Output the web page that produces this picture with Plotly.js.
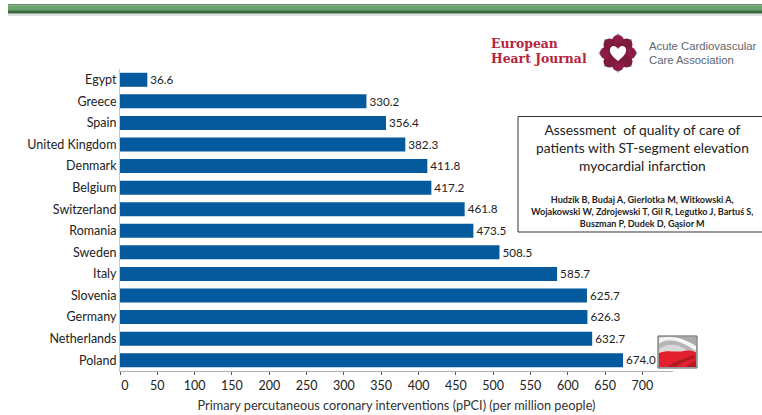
<!DOCTYPE html>
<html><head><meta charset="utf-8">
<script src="https://cdn.plot.ly/plotly-3.0.1.min.js"></script>
<style>html,body{margin:0;padding:0;background:#fff}#c{width:762px;height:415px}</style>
</head><body><div id="c"></div>
<script>
const countries=["Egypt","Greece","Spain","United Kingdom","Denmark","Belgium","Switzerland","Romania","Sweden","Italy","Slovenia","Germany","Netherlands","Poland"];
const ppciValues=[36.6,330.2,356.4,382.3,411.8,417.2,461.8,473.5,508.5,585.7,625.7,626.3,632.7,674.0];
const xTicks=[0,50,100,150,200,250,300,350,400,450,500,550,600,650,700];
const xTitle="Primary percutaneous coronary interventions (pPCI) (per million people)";
const boxTitle="Assessment  of quality of care of<br>patients with ST-segment elevation<br>myocardial infarction";
const boxAuthors="Hudzik B, Budaj A, Gierlotka M, Witkowski A,<br>Wojakowski W, Zdrojewski T, Gil R, Legutko J, Bartuś S,<br>Buszman P, Dudek D, Gąsior M";

const L=120,R=673,T=69,B=371,W=762,H=415;
const px=x=>(x-L)/(R-L), py=y=>(B-y)/(B-T);
const rect=(x0,y0,x1,y1,fill,line,lw)=>({type:'rect',xref:'paper',yref:'paper',x0:px(x0),x1:px(x1),y0:py(y0),y1:py(y1),fillcolor:fill,line:{color:line||fill,width:lw===undefined?0:lw},layer:'above'});
const circ=(cx,cy,r,fill)=>({type:'circle',xref:'paper',yref:'paper',x0:px(cx-r),x1:px(cx+r),y0:py(cy-r),y1:py(cy+r),fillcolor:fill,line:{width:0},layer:'above'});
const path=(pts,fill)=>({type:'path',xref:'paper',yref:'paper',path:pts.map(s=>typeof s==='string'?s:px(s[0])+','+py(s[1])).join(' '),fillcolor:fill,line:{width:0},layer:'above'});
const note=(x,y,text,size,color,extra)=>Object.assign({xref:'paper',yref:'paper',x:px(x),y:py(y),text:text,showarrow:false,align:'center',xanchor:'center',yanchor:'middle',font:{family:'Lato, sans-serif',size:size,color:color}},extra||{});

const shapes=[];
// top green bar
shapes.push(rect(8,13,762,16,'#e2e2e2'));
shapes.push(rect(8,4,762,13.5,'#3d6a40'));
shapes.push(rect(8,4.5,762,6,'#8db08f'));
shapes.push(rect(8,6,762,10.5,'#68a46c'));
// logo
const cx=618,cy=53;
shapes.push(path(['M',[cx,cy-20],'L',[cx+20,cy],'L',[cx,cy+20],'L',[cx-20,cy],'Z'],'#9db1d3'));
shapes.push(rect(cx-14,cy-14,cx+14,cy+14,'#a9bbd9'));
[[0,-12],[8.5,-8.5],[12,0],[8.5,8.5],[0,12],[-8.5,8.5],[-12,0],[-8.5,-8.5]].forEach((d,i)=>shapes.push(circ(cx+d[0],cy+d[1],6,i%2?'#7d1a3e':'#8e1c45')));
shapes.push(circ(cx,cy,10,'#7d1a3e'));
shapes.push(path(['M',[cx,cy+8],'C',[cx-5,cy+4],[cx-9,cy],[cx-8,cy-4],'C',[cx-7,cy-8],[cx-2,cy-8],[cx,cy-4],'C',[cx+2,cy-8],[cx+7,cy-8],[cx+8,cy-4],'C',[cx+9,cy],[cx+5,cy+4],[cx,cy+8],'Z'],'#ffffff'));
// text box
shapes.push(rect(518,116.5,764,232,'rgba(255,255,255,0)','#333333',1));
// flag
shapes.push(rect(658,336,697,368,'#d8d8d8','#555555',1));
shapes.push(path(['M',[659,343],'C',[668,336],[680,340],[696,351],'L',[696,346],'C',[684,337],[672,335],[659,339],'Z'],'#f7f7f7'));
shapes.push(path(['M',[659,349],'C',[668,342],[680,344],[690,352],'L',[696,351],'C',[680,340],[668,338],[659,344],'Z'],'#b5b5b5'));
shapes.push(path(['M',[672,337],'C',[682,338],[690,342],[696,346],'L',[696,337],'Z'],'#a9a9a9'));
shapes.push(path(['M',[659,353],'C',[668,349],[676,353],[684,351],'C',[688,350],[692,351],[696,352],'L',[696,367],'L',[659,367],'Z'],'#e3202d'));
shapes.push(path(['M',[668,367],'C',[673,362],[680,360],[694,355],'L',[695,358],'C',[686,361],[680,363],[676,367],'Z'],'#b01a24'));
shapes.push(path(['M',[686,367],'C',[689,364],[692,362],[696,361],'L',[696,367],'Z'],'#b81a24'));

const annotations=[
 note(488.5,43.75,'<b>European</b>',12.4,'#b5233d',{xanchor:'left',font:{family:'DejaVu Serif, serif',size:12.4,color:'#b5233d'}}),
 note(488.5,58.5,'<b>Heart Journal</b>',12.4,'#b5233d',{xanchor:'left',font:{family:'DejaVu Serif, serif',size:12.4,color:'#b5233d'}}),
 note(646.5,46.5,'Acute Cardiovascular',11.3,'#5c6670',{xanchor:'left',font:{family:'Liberation Sans, sans-serif',size:11.3,color:'#5c6670'}}),
 note(646.5,60.5,'Care Association',11.3,'#5c6670',{xanchor:'left',font:{family:'Liberation Sans, sans-serif',size:11.3,color:'#5c6670'}}),
 note(642,147,boxTitle,13.8,'#222222'),
 note(642,211,'<b>'+boxAuthors.split('<br>').join('</b><br><b>')+'</b>',9.1,'#222222')
];

Plotly.newPlot('c',[{
  type:'bar',orientation:'h',y:countries,x:ppciValues,
  marker:{color:'#045a9c'},
  text:ppciValues.map(v=>v.toFixed(1)),textposition:'outside',cliponaxis:false,
  textfont:{family:'Lato, sans-serif',size:12.5,color:'#222222'},
  hoverinfo:'skip'
}],{
  width:W,height:H,showlegend:false,bargap:0.35,
  paper_bgcolor:'#fff',plot_bgcolor:'#fff',
  margin:{l:L,r:W-R,t:T,b:H-B,pad:0},
  font:{family:'Lato, sans-serif',color:'#222222'},
  xaxis:{range:[0,741],tickmode:'array',tickvals:xTicks,ticktext:xTicks.map(v=>v===0?'\u00a0\u00a0\u00a00':String(v)),showgrid:false,zeroline:false,
    showline:true,linecolor:'#b0b0b0',linewidth:1,ticks:'outside',ticklen:3,tickcolor:'#555555',tickwidth:1,
    tickfont:{size:12.5,color:'#222222'},title:{text:xTitle,font:{size:12.75,color:'#333333'},standoff:9}},
  yaxis:{type:'category',categoryorder:'array',categoryarray:countries,autorange:false,range:[13.5,-0.5],showgrid:false,zeroline:false,
    showline:true,linecolor:'#c8c8c8',linewidth:1,ticks:'',tickfont:{size:12.5,color:'#222222'}},
  shapes:shapes,annotations:annotations
},{displayModeBar:false,staticPlot:true});
</script></body></html>
